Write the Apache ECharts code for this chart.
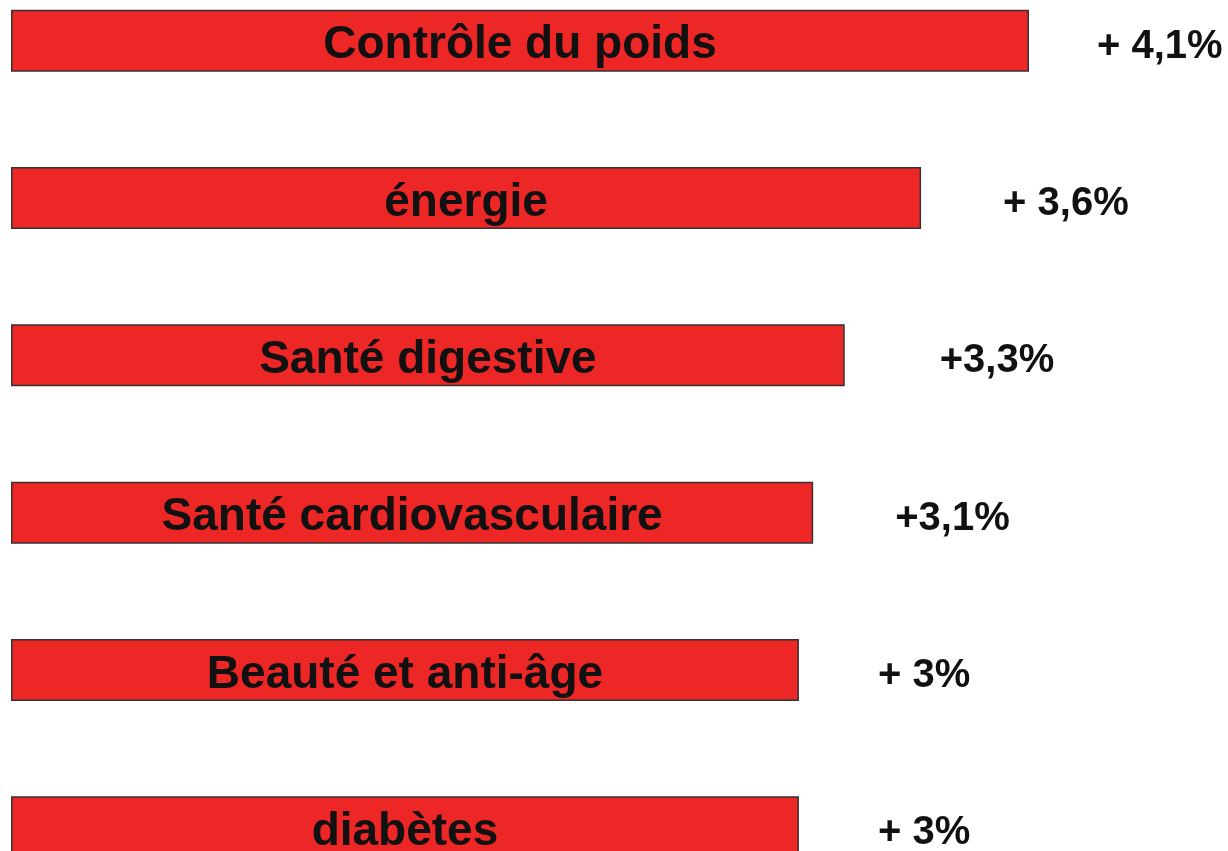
<!DOCTYPE html>
<html>
<head>
<meta charset="utf-8">
<script src="https://cdn.jsdelivr.net/npm/echarts@6/dist/echarts.min.js"></script>
<style>
	html, body { margin: 0; padding: 0; background: #fff; overflow: hidden; }
	#chart { width: 1228px; height: 944px; margin-top: -38px; }
</style>
</head>
<body>
<div id="chart"></div>
<script>
// catégories (de haut en bas)
var categories = ['Contrôle du poids', 'énergie', 'Santé digestive', 'Santé cardiovasculaire', 'Beauté et anti-âge', 'diabètes'];
// longueur relative des barres (barre la plus longue = 100)
var barLengths = [100, 89.4, 81.9, 78.8, 77.4, 77.4];
// étiquettes de croissance affichées à droite
var growthLabels = ['+ 4,1%', '+ 3,6%', '+3,3%', '+3,1%', '+ 3%', '+ 3%'];

// écart entre la barre et l'étiquette de droite (mise en page)
var labelGaps = [68, 82, 95, 82, 79, 79];

var myChart = echarts.init(document.getElementById('chart'));

var option = {
	animation: false,
	backgroundColor: '#ffffff',
	grid: {
		left: 11,
		right: 199,
		top: 0,
		bottom: 0
	},
	xAxis: {
		type: 'value',
		min: 0,
		max: 100,
		show: false
	},
	yAxis: {
		type: 'category',
		inverse: true,
		data: categories,
		show: false
	},
	series: [{
		name: 'barres',
		type: 'bar',
		barWidth: 62,
		data: barLengths,
		itemStyle: {
			color: '#ED2626',
			borderColor: '#333333',
			borderWidth: 1.5
		},
		label: {
			show: true,
			position: 'inside',
			formatter: '{b}',
			offset: [0, 5],
			color: '#111111',
			fontFamily: 'Liberation Sans',
			fontWeight: 'bold',
			fontSize: 46
		}
	}, {
		name: 'croissance',
		type: 'bar',
		barWidth: 62,
		barGap: '-100%',
		silent: true,
		data: barLengths.map(function (v, i) {
			return { value: v, label: { distance: labelGaps[i] } };
		}),
		itemStyle: {
			color: 'rgba(0,0,0,0)'
		},
		label: {
			show: true,
			position: 'right',
			offset: [0, 6],
			formatter: function (p) {
				return growthLabels[p.dataIndex];
			},
			color: '#111111',
			fontFamily: 'Liberation Sans',
			fontWeight: 'bold',
			fontSize: 40
		}
	}]
};

myChart.setOption(option);
</script>
</body>
</html>
